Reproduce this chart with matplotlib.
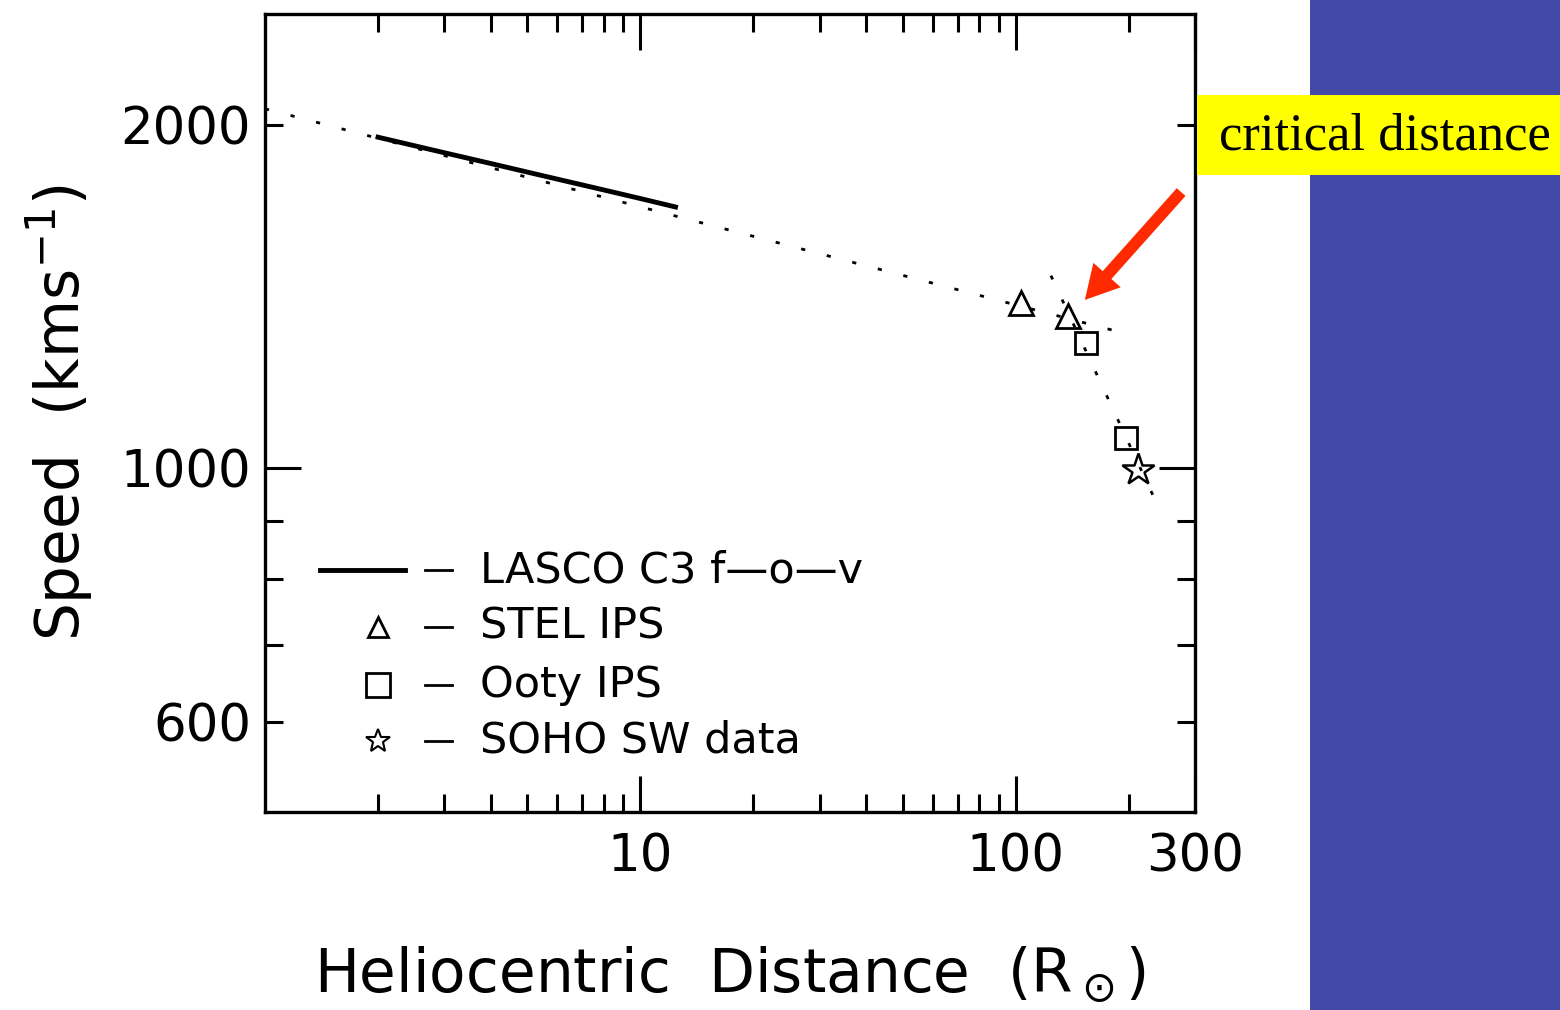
import numpy as np
import matplotlib
matplotlib.use('Agg')
from matplotlib import pyplot as plt
from matplotlib.patches import Rectangle, FancyArrowPatch, ArrowStyle
from matplotlib.ticker import FixedLocator, FuncFormatter, NullFormatter

plt.rcParams['font.family'] = ['DejaVu Sans']
plt.rcParams['mathtext.fontset'] = 'dejavusans'

# LASCO C3 field of view (solid line)
lasco_r = [2, 3, 4, 6, 8, 10, 12.4]
lasco_v = [1950, 1890, 1849, 1792, 1753, 1723, 1694]

# dotted fits
fit1_r = [1, 200]
fit1_v = [2065, 1310]
fit2_r = [124, 236]
fit2_v = [1475, 935]

# observations
stel_r = [103, 138]
stel_v = [1395, 1359]
ooty_r = [154, 197]
ooty_v = [1287, 1062]
soho_r = [212]
soho_v = [996]

legend_labels = ['LASCO C3 f\u2014o\u2014v', 'STEL IPS', 'Ooty IPS', 'SOHO SW data']

fig = plt.figure(figsize=(15.6, 10.1), dpi=100)
ax = fig.add_axes([265 / 1560, 1 - 812 / 1010, 930 / 1560, 798 / 1010])

ax.plot(fit1_r, fit1_v, color='black', lw=2, ls=(0, (1.5, 8)))
ax.plot(fit2_r, fit2_v, color='black', lw=2, ls=(0, (1.5, 8)))
ax.plot(lasco_r, lasco_v, color='black', lw=3.5)
ax.plot(stel_r, stel_v, ls='none', marker='^', ms=17, mfc='none', mec='black', mew=2)
ax.plot(ooty_r, ooty_v, ls='none', marker='s', ms=16, mfc='none', mec='black', mew=2)
ax.plot(soho_r, soho_v, ls='none', marker='*', ms=24, mfc='none', mec='black', mew=1.8)

ax.set_xscale('log')
ax.set_yscale('log')
ax.set_xlim(1, 300)
ax.set_ylim(500, 2500)

ax.xaxis.set_major_locator(FixedLocator([10, 100, 300]))
ax.xaxis.set_major_formatter(FuncFormatter(lambda v, p: f'{v:.0f}'))
ax.xaxis.set_minor_locator(FixedLocator([2, 3, 4, 5, 6, 7, 8, 9, 20, 30, 40, 50, 60, 70, 80, 90, 200]))
ax.xaxis.set_minor_formatter(NullFormatter())

ax.yaxis.set_major_locator(FixedLocator([1000]))
ax.yaxis.set_major_formatter(FuncFormatter(lambda v, p: f'{v:.0f}'))
ax.yaxis.set_minor_locator(FixedLocator([600, 700, 800, 900, 2000]))
ax.yaxis.set_minor_formatter(FuncFormatter(lambda v, p: f'{v:.0f}' if v in (600, 2000) else ''))

ax.tick_params(which='both', direction='in', top=True, right=True, width=2.2,
               labelsize=37, pad=10)
ax.tick_params(axis='x', which='both', pad=15)
ax.tick_params(which='major', length=26)
ax.tick_params(which='minor', length=13)
for s in ax.spines.values():
    s.set_linewidth(2.4)

ax.set_xlabel('Heliocentric  Distance  (R$_\\odot$)', fontsize=43, labelpad=45)
ax.set_ylabel('Speed  (kms$^{-1}$)', fontsize=43, labelpad=18)

# hand-made legend, like the IDL plot
rows = [0.303, 0.232, 0.159, 0.089]
ax.plot([0.059, 0.151], [rows[0], rows[0]], transform=ax.transAxes, color='black', lw=3.5)
ax.plot([0.1215], [rows[1]], transform=ax.transAxes, marker='^', ms=14, mfc='none', mec='black', mew=2)
ax.plot([0.1215], [rows[2]], transform=ax.transAxes, marker='s', ms=17, mfc='none', mec='black', mew=2)
ax.plot([0.1215], [rows[3]], transform=ax.transAxes, marker='*', ms=18, mfc='none', mec='black', mew=1.5)
for y, lab in zip(rows, legend_labels):
    ax.plot([0.172, 0.201], [y, y], transform=ax.transAxes, color='black', lw=2)
    ax.text(0.231, y, lab, transform=ax.transAxes, fontsize=31, ha='left', va='center')

# slide decorations
fig.patches.append(Rectangle((1310 / 1560, 0), 250 / 1560, 1, transform=fig.transFigure,
                             facecolor='#4349a7', edgecolor='none', zorder=0))
fig.patches.append(Rectangle((1197 / 1560, 1 - 175 / 1010), 363 / 1560, 80 / 1010,
                             transform=fig.transFigure, facecolor='#ffff00',
                             edgecolor='none', zorder=1))
fig.text(1385 / 1560, 1 - 136 / 1010, 'critical distance', family='Liberation Serif',
         fontsize=38, ha='center', va='center', zorder=2)

arrow = FancyArrowPatch((1183, 1010 - 190), (1083, 1010 - 302), transform=None,
                        arrowstyle=ArrowStyle.Simple(head_length=1.0, head_width=1.1, tail_width=0.35),
                        mutation_scale=24, color='#ff2a00', lw=0)
fig.patches.append(arrow)

fig.savefig('out.png', dpi=100)
plt.close()
